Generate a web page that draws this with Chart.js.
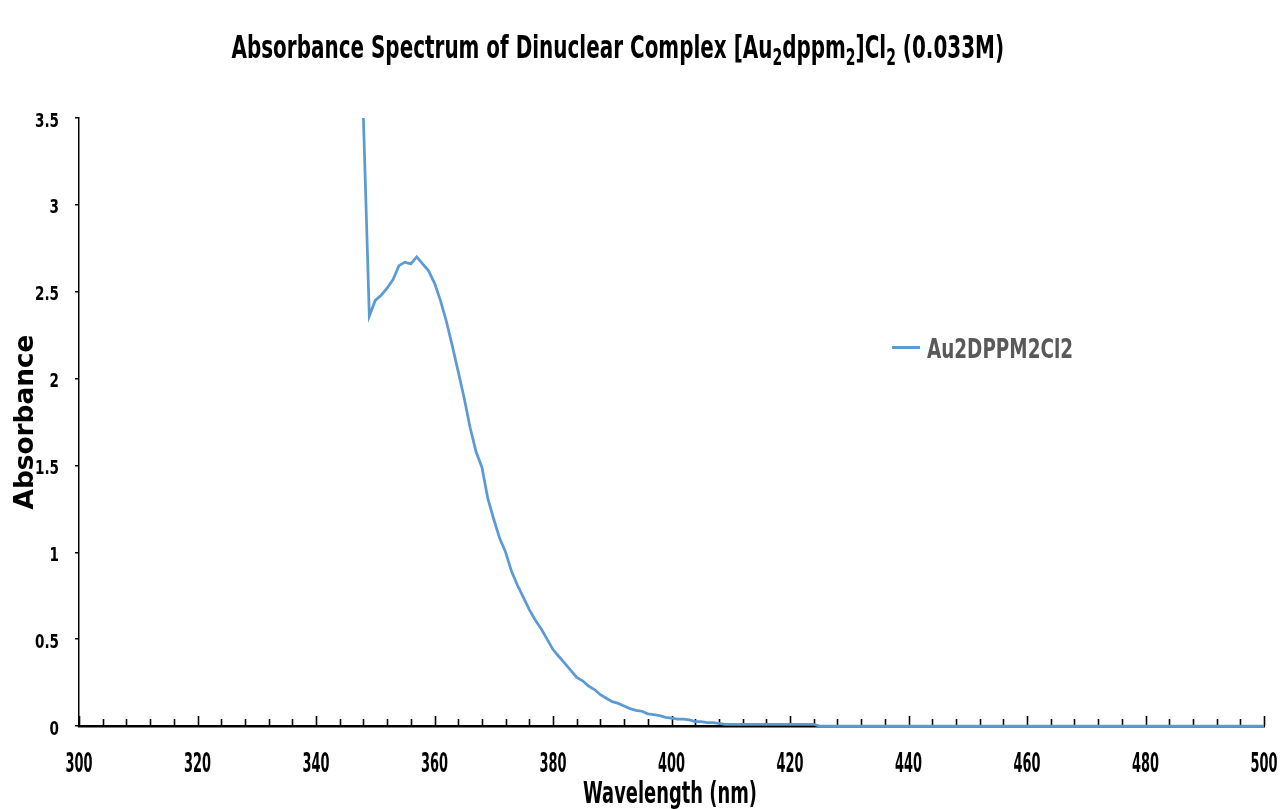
<!DOCTYPE html>
<html>
<head>
<meta charset="utf-8">
<script src="https://cdn.jsdelivr.net/npm/chart.js@4/dist/chart.umd.min.js"></script>
<style>
html,body{margin:0;padding:0;background:#fff;}
#wrap{width:1284px;height:809px;position:relative;}
</style>
</head>
<body>
<div id="wrap"><canvas id="c" width="1284" height="809"></canvas></div>
<script>
// ---- data ----
const wavelength = [348,349,350,351,352,353,354,355,356,357,358,359,360,361,362,363,364,365,366,367,368,369,370,371,372,373,374,375,376,377,378,379,380,381,382,383,384,385,386,387,388,389,390,391,392,393,394,395,396,397,398,399,400,401,402,403,404,405,406,407,408,409,424,425,500];
const absorbance = [3.5,2.36,2.45,2.48,2.52,2.57,2.65,2.67,2.66,2.70,2.66,2.62,2.55,2.45,2.33,2.19,2.04,1.89,1.72,1.58,1.49,1.31,1.19,1.08,1.00,0.89,0.81,0.74,0.67,0.61,0.56,0.50,0.44,0.40,0.36,0.32,0.28,0.26,0.23,0.21,0.18,0.16,0.14,0.13,0.115,0.10,0.09,0.085,0.07,0.065,0.06,0.05,0.045,0.04,0.04,0.035,0.025,0.025,0.02,0.02,0.015,0.01,0.01,0,0];
const seriesLabel = 'Au2DPPM2Cl2';
const titleParts = [['Absorbance Spectrum of Dinuclear Complex [Au',0],['2',1],['dppm',0],['2',1],[']Cl',0],['2',1],[' (0.033M)',0]];
const xTitle = 'Wavelength (nm)';
const yTitle = 'Absorbance';
const xRange = [300, 500], xStep = 20, xMinorStep = 4;
const yRange = [0, 3.5], yStep = 0.5;

const COND = "'DejaVu Sans Condensed','Liberation Sans Narrow',sans-serif";
const WIDE = "'DejaVu Sans',Verdana,sans-serif";
const bold = fam => s => 'bold ' + s.toFixed(2) + 'px ' + fam;

const points = wavelength.map((w,i)=>({x:w,y:absorbance[i]}));

// fit a font so that text has the wanted width, and return the vertical stretch for the wanted cap height
function fitText(ctx, text, fontOf, targetW, targetCap){
  ctx.font = fontOf(100);
  const w = ctx.measureText(text).width;
  const size = 100*targetW/w;
  ctx.font = fontOf(size);
  const cap = ctx.measureText('H').actualBoundingBoxAscent;
  return {size, sy: targetCap/cap};
}
function drawText(ctx, text, x, y, font, sy, align, color){
  ctx.save();
  ctx.translate(x, y);
  ctx.scale(1, sy);
  ctx.font = font;
  ctx.textAlign = align;
  ctx.textBaseline = 'alphabetic';
  ctx.fillStyle = color;
  ctx.fillText(text, 0, 0);
  ctx.restore();
}

const textPlugin = {
  id:'texts',
  afterDraw(chart){
    const ctx = chart.ctx;
    const xs = chart.scales.x, ys = chart.scales.y;
    ctx.save();
    // ---- title with subscripts ----
    const tf = bold(COND);
    ctx.font = tf(100);
    let w100 = 0;
    titleParts.forEach(([t,s])=>{ ctx.font = tf(s?70:100); w100 += ctx.measureText(t).width; });
    const tSize = 100*773/w100;
    ctx.font = tf(tSize);
    const tCap = ctx.measureText('H').actualBoundingBoxAscent;
    const tSy = 25/tCap;
    let x = 618 - 773/2;
    ctx.save();
    ctx.translate(0, 58);
    ctx.scale(1, tSy);
    ctx.fillStyle = '#000';
    ctx.textBaseline = 'alphabetic';
    titleParts.forEach(([t,s])=>{
      ctx.font = tf(s ? tSize*0.7 : tSize);
      ctx.fillText(t, x, s ? tSize*0.22 : 0);
      x += ctx.measureText(t).width;
    });
    ctx.restore();

    // ---- x tick labels ----
    const xl = fitText(ctx, '300', bold(COND), 27, 18.4);
    xs.ticks.forEach(t=>{
      drawText(ctx, String(t.value), xs.getPixelForValue(t.value), 772, bold(COND)(xl.size), xl.sy, 'center', '#000');
    });
    // ---- y tick labels ----
    const yl = fitText(ctx, '3.5', bold(COND), 24, 15);
    ys.ticks.forEach(t=>{
      const label = String(Math.round(t.value*100)/100);
      drawText(ctx, label, 59, ys.getPixelForValue(t.value) + 8.5, bold(COND)(yl.size), yl.sy, 'right', '#000');
    });
    // ---- x axis title ----
    const xt = fitText(ctx, xTitle, bold(COND), 174, 21.5);
    drawText(ctx, xTitle, 670, 803, bold(COND)(xt.size), xt.sy, 'center', '#000');
    // ---- y axis title (rotated) ----
    const yt = fitText(ctx, yTitle, bold(WIDE), 175, 19);
    ctx.save();
    ctx.translate(33, 422);
    ctx.rotate(-Math.PI/2);
    ctx.font = bold(WIDE)(yt.size);
    ctx.textAlign = 'center';
    ctx.textBaseline = 'alphabetic';
    ctx.fillStyle = '#000';
    ctx.fillText(yTitle, 0, 0);
    ctx.restore();
    // ---- legend ----
    const ds = chart.data.datasets[0];
    ctx.strokeStyle = ds.borderColor;
    ctx.lineWidth = 3;
    ctx.beginPath();
    ctx.moveTo(892, 347.5);
    ctx.lineTo(920, 347.5);
    ctx.stroke();
    const lg = fitText(ctx, ds.label, bold(COND), 146, 21);
    drawText(ctx, ds.label, 927, 358, bold(COND)(lg.size), lg.sy, 'left', '#595959');
    ctx.restore();
  }
};

const xTickPlugin = {
  id:'xInnerTicks',
  beforeDatasetsDraw(chart){
    const ctx = chart.ctx, xs = chart.scales.x, y0 = chart.chartArea.bottom;
    ctx.save();
    ctx.strokeStyle = '#000';
    ctx.lineWidth = 1.6;
    for(let v = xs.min; v <= xs.max + 1e-9; v += xMinorStep){
      const px = Math.round(xs.getPixelForValue(v)) + 0.5;
      const len = (v % xStep === 0) ? 10 : 7;
      ctx.beginPath();
      ctx.moveTo(px, y0);
      ctx.lineTo(px, y0 - len);
      ctx.stroke();
    }
    ctx.restore();
  }
};

new Chart(document.getElementById('c'), {
  type:'scatter',
  data:{datasets:[{
    label: seriesLabel,
    data: points,
    showLine:true,
    borderColor:'#5B9BD5',
    backgroundColor:'#5B9BD5',
    borderWidth:2.75,
    pointRadius:0,
    tension:0,
    clip:6
  }]},
  options:{
    responsive:false,
    animation:false,
    layout:{padding:{top:118,right:20,left:0,bottom:0}},
    plugins:{legend:{display:false},tooltip:{enabled:false},title:{display:false}},
    scales:{
      x:{
        type:'linear', min:xRange[0], max:xRange[1],
        afterFit(s){ s.height = 83; s.paddingLeft = 0; s.paddingRight = 0; },
        ticks:{stepSize:xStep, display:false},
        grid:{display:false, drawTicks:false},
        border:{display:true, color:'#000', width:2.5},
        title:{display:false}
      },
      y:{
        min:yRange[0], max:yRange[1],
        afterFit(s){ s.width = 79; s.paddingTop = 0; s.paddingBottom = 0; },
        ticks:{stepSize:yStep, display:false},
        grid:{display:true, drawOnChartArea:false, drawTicks:true, tickLength:4, color:'#000', lineWidth:1.5},
        border:{display:true, color:'#000', width:1.5},
        title:{display:false}
      }
    }
  },
  plugins:[xTickPlugin, textPlugin]
});
</script>
</body>
</html>
